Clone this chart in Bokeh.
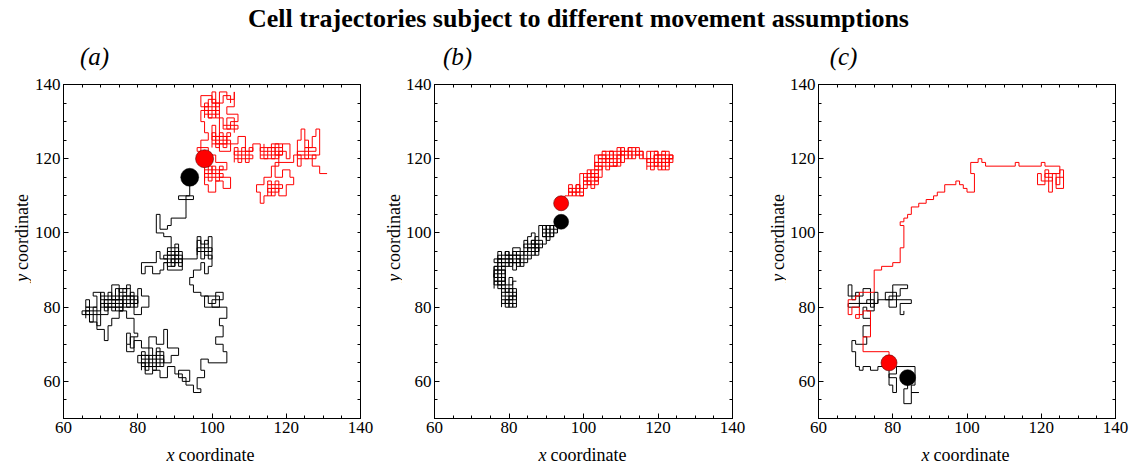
import math
from bokeh.plotting import figure
from bokeh.models import Range1d, LinearAxis, FixedTicker, Label
from bokeh.layouts import column, row
from bokeh.embed import file_html
from bokeh.resources import INLINE

TITLE = "Cell trajectories subject to different movement assumptions"
PANEL_LABELS = ["(a)", "(b)", "(c)"]
X_TICKS = [60, 80, 100, 120, 140]
Y_TICKS = [60, 80, 100, 120, 140]
MINOR_TICKS = [50, 55, 60, 65, 70, 75, 80, 85, 90, 95, 100, 105, 110, 115, 120, 125, 130, 135, 140]
X_LABEL = ("x", "coordinate")
Y_LABEL = ("y", "coordinate")

# ---- panel (a) trajectories (lattice vertices) ----
A_BLACK = [
    (94, 115), (94, 110), (91, 110), (91, 109), (95, 109), (95, 110), (93, 110), (93, 104),
    (89, 104), (89, 102), (88, 102), (88, 101), (86, 101), (86, 105), (85, 105), (85, 100),
    (87, 100), (87, 99), (89, 99), (89, 96),
    (91, 96), (91, 94), (88, 94), (88, 95), (92, 95), (92, 93), (89, 93), (89, 92), (91, 92),
    (91, 97), (90, 97), (90, 91), (88, 91), (88, 93),
    (86, 93), (86, 95), (85, 95), (85, 92), (81, 92), (81, 89), (82, 89), (82, 91), (84, 91),
    (84, 89), (86, 89), (86, 90), (87, 90), (87, 92), (88, 92), (88, 90), (92, 90),
    (92, 93), (96, 93), (96, 99), (97, 99), (97, 97), (99, 97), (99, 99), (100, 99), (100, 95),
    (98, 95), (98, 94), (100, 94), (100, 91), (99, 91), (99, 89), (98, 89), (98, 92), (97, 92),
    (97, 90), (95, 90), (95, 88), (94, 88), (94, 86), (95, 86), (95, 84),
    (97, 84), (97, 83), (99, 83), (99, 81), (101, 81), (101, 84), (103, 84), (103, 82),
    (100, 82), (100, 80), (102, 80), (102, 83), (98, 83), (98, 80), (104, 80),
    (104, 77), (102, 77), (102, 75), (103, 75), (103, 72), (101, 72), (101, 70), (103, 70),
    (103, 68), (104, 68), (104, 65), (99, 65),
    (99, 66), (97, 66), (97, 63), (98, 63), (98, 61), (96, 61), (96, 58), (97, 58), (97, 57),
    (95, 57), (95, 59), (93, 59), (93, 61), (91, 61), (91, 63), (94, 63), (94, 60), (92, 60),
    (92, 62), (90, 62),
    (90, 64), (88, 64), (88, 61), (86, 61), (86, 63), (84, 63), (84, 62), (82, 62), (82, 65),
    (80, 65), (80, 67), (83, 67), (83, 64), (85, 64), (85, 68), (87, 68), (87, 65), (89, 65),
    (89, 67), (91, 67), (91, 69), (88, 69), (88, 74), (87, 74), (87, 70), (85, 70), (85, 72),
    (83, 72), (83, 69), (81, 69), (81, 71), (79, 71), (79, 68), (77, 68), (77, 70), (78, 70),
    (78, 72), (80, 72), (80, 73), (79, 73), (79, 77),
    (77, 77), (77, 79), (75, 79), (75, 77), (73, 77), (73, 75), (72, 75), (72, 71), (71, 71),
    (71, 74), (69, 74), (69, 76), (67, 76), (67, 78), (65, 78), (65, 79), (67, 79), (67, 82),
    (66, 82), (66, 80), (69, 80), (69, 83), (68, 83), (68, 84), (70, 84), (70, 78), (72, 78),
    (72, 81), (74, 81), (74, 79), (76, 79), (76, 82), (73, 82), (73, 86), (75, 86), (75, 84),
    (77, 84), (77, 86), (78, 86), (78, 81), (80, 81), (80, 85), (81, 85), (81, 83), (83, 83),
    (83, 80), (81, 80), (81, 78), (79, 78), (79, 83), (76, 83), (76, 80), (71, 80), (71, 82),
    (75, 82), (75, 85), (78, 85),
]
A_BLACK_LOOPS = [
    [(70, 79), (70, 84), (71, 84), (71, 79), (72, 79), (72, 84), (73, 84), (73, 79), (74, 79),
     (74, 85), (75, 85), (75, 79), (76, 79), (76, 85), (77, 85), (77, 80), (78, 80), (78, 84),
     (79, 84), (79, 80), (80, 80), (80, 83), (70, 83), (70, 82), (80, 82), (80, 81), (70, 81),
     (70, 80), (79, 80)],
    [(66, 77), (66, 80), (67, 80), (67, 76), (68, 76), (68, 80), (69, 80), (69, 75), (70, 75),
     (70, 78), (66, 78), (66, 79), (70, 79)],
    [(88, 91), (88, 96), (89, 96), (89, 91), (90, 91), (90, 95), (91, 95), (91, 91), (92, 91),
     (92, 94), (87, 94), (87, 93), (92, 93), (92, 92), (87, 92)],
    [(81, 63), (81, 68), (82, 68), (82, 63), (83, 63), (83, 69), (84, 69), (84, 63), (85, 63),
     (85, 69), (86, 69), (86, 64), (87, 64), (87, 67), (81, 67), (81, 66), (87, 66), (87, 65),
     (81, 65), (81, 64), (86, 64)],
    [(96, 94), (96, 98), (97, 98), (97, 93), (98, 93), (98, 98), (99, 98), (99, 93), (100, 93),
     (100, 96), (96, 96), (96, 95), (100, 95)],
    [(77, 70), (77, 73), (78, 73), (78, 69), (79, 69), (79, 72)],
]
A_RED = [
    (98, 120), (98, 118), (100, 118), (100, 116), (98, 116), (98, 113), (99, 113), (99, 111),
    (101, 111), (101, 114), (103, 114), (103, 112), (105, 112), (105, 115), (102, 115),
    (102, 117), (104, 117), (104, 119), (101, 119), (101, 121), (99, 121), (99, 123), (96, 123),
    (96, 122), (97, 122), (97, 125), (99, 125), (99, 127), (98, 127), (98, 130), (97, 130),
    (97, 133), (99, 133), (99, 131), (101, 131), (101, 136), (99, 136), (99, 134), (97, 134),
    (97, 137), (100, 137), (100, 135), (102, 135), (102, 138), (104, 138), (104, 136),
    (106, 136), (106, 138), (106, 134), (104, 134), (104, 132), (107, 132), (107, 130),
    (105, 130), (105, 128), (103, 128), (103, 131), (102, 131), (102, 126), (104, 126),
    (104, 124), (101, 124), (101, 129), (100, 129), (100, 126), (102, 126), (102, 122),
    (105, 122), (105, 124), (107, 124), (107, 126), (109, 126), (109, 122), (111, 122),
    (111, 124), (113, 124), (113, 120), (115, 120), (115, 123), (117, 123), (117, 121),
    (119, 121), (119, 124), (121, 124), (121, 120), (120, 120), (120, 122), (118, 122),
    (118, 118), (116, 118), (116, 115), (114, 115), (114, 113), (112, 113), (112, 111),
    (113, 111), (113, 108), (114, 108), (114, 110), (116, 110), (116, 112), (118, 112),
    (118, 110), (120, 110), (120, 113), (122, 113), (122, 115), (121, 115), (121, 117),
    (119, 117), (119, 115), (117, 115), (117, 119), (122, 119), (122, 121), (124, 121),
    (124, 118), (123, 118), (123, 125), (124, 125), (124, 128), (125, 128), (125, 123),
    (127, 123), (127, 126), (128, 126), (128, 128), (129, 128), (129, 121), (127, 121),
    (127, 118), (129, 118), (129, 116), (131, 116),
]
A_RED_LOOPS = [
    [(98, 131), (98, 135), (99, 135), (99, 131), (100, 131), (100, 135), (101, 135), (101, 131),
     (102, 131), (102, 135), (102, 134), (98, 134), (98, 133), (102, 133), (102, 132), (98, 132)],
    [(100, 123), (100, 127), (101, 127), (101, 123), (102, 123), (102, 127), (103, 127),
     (103, 123), (104, 123), (104, 127), (105, 127), (105, 126), (100, 126), (100, 125),
     (105, 125), (105, 124), (100, 124)],
    [(98, 114), (98, 118), (99, 118), (99, 114), (100, 114), (100, 118), (101, 118), (101, 114),
     (102, 114), (102, 118), (103, 118), (103, 117), (98, 117), (98, 116), (103, 116),
     (103, 115), (98, 115)],
    [(106, 119), (106, 123), (107, 123), (107, 119), (108, 119), (108, 123), (109, 123),
     (109, 119), (110, 119), (110, 123), (111, 123), (111, 122), (106, 122), (106, 121),
     (111, 121), (111, 120), (106, 120)],
    [(113, 121), (119, 121), (119, 122), (113, 122), (113, 123), (119, 123), (119, 124),
     (116, 124), (116, 120), (117, 120), (117, 124), (118, 124), (118, 120), (114, 120),
     (114, 124)],
    [(115, 110), (115, 114), (116, 114), (116, 110), (117, 110), (117, 114), (118, 114),
     (118, 111), (115, 111), (115, 112), (119, 112), (119, 113), (115, 113)],
    [(123, 120), (128, 120), (128, 121), (123, 121), (123, 122), (128, 122), (128, 123),
     (125, 123), (125, 120), (126, 120), (126, 125), (125, 125)],
    [(100, 135), (100, 138), (101, 138), (101, 135), (103, 135), (103, 137), (105, 137),
     (105, 135)],
    [(103, 129), (107, 129), (107, 128), (104, 128), (104, 131), (106, 131), (106, 127)],
]

# ---- panel (b) ----
B_BLACK = [
    (94, 103), (94, 102), (89, 102), (89, 101), (93, 101), (93, 100), (89, 100), (89, 99),
    (92, 99), (92, 102), (91, 102), (91, 98), (90, 98), (90, 102), (90, 97), (86, 97),
    (86, 98), (89, 98), (89, 96), (85, 96), (85, 95), (88, 95), (88, 99), (87, 99), (87, 94),
    (86, 94), (86, 93), (82, 93), (82, 95), (84, 95), (84, 91), (83, 91), (83, 96), (81, 96),
    (81, 92), (85, 92), (85, 94), (79, 94), (79, 95), (80, 95), (80, 91), (78, 91), (78, 93),
    (76, 93), (76, 92), (82, 92), (82, 90), (81, 90), (81, 93), (77, 93), (77, 86), (78, 86),
    (78, 91), (76, 91), (76, 87), (79, 87), (79, 88), (76, 88), (76, 90), (79, 90), (79, 84),
    (80, 84), (80, 88), (81, 88), (81, 82), (79, 82), (79, 81), (81, 81), (81, 80), (80, 80),
    (80, 83), (82, 83), (82, 85), (78, 85), (78, 86), (81, 86), (81, 87), (82, 87),
]
B_BLACK_LOOPS = [
    [(88, 99), (88, 102), (89, 102), (89, 99), (90, 99), (90, 102), (91, 102), (91, 99),
     (92, 99), (92, 102), (93, 102), (93, 100)],
    [(84, 94), (84, 98), (85, 98), (85, 94), (86, 94), (86, 98), (87, 98), (87, 94), (88, 94),
     (88, 97), (84, 97), (84, 96), (88, 96), (88, 95), (84, 95)],
    [(77, 91), (77, 95), (78, 95), (78, 91), (79, 91), (79, 95), (80, 95), (80, 91), (81, 91),
     (81, 95), (82, 95), (82, 91), (83, 91), (83, 94), (77, 94), (77, 93), (83, 93), (83, 92),
     (77, 92)],
    [(76, 85), (76, 91), (77, 91), (77, 85), (78, 85), (78, 91), (79, 91), (79, 86), (76, 86),
     (76, 87), (79, 87), (79, 88), (76, 88), (76, 89), (79, 89), (79, 90), (76, 90)],
    [(78, 80), (78, 85), (79, 85), (79, 80), (80, 80), (80, 85), (81, 85), (81, 80), (82, 80),
     (82, 84), (78, 84), (78, 83), (82, 83), (82, 82), (78, 82), (78, 81), (82, 81)],
    [(85, 95), (85, 99), (86, 99), (86, 100), (87, 100), (87, 96)],
]
B_RED = [
    (94, 108), (95, 108), (95, 110), (97, 110), (97, 112), (96, 112), (96, 111), (99, 111),
    (99, 113), (98, 113), (98, 110), (100, 110), (100, 114), (102, 114), (102, 113),
    (101, 113), (101, 116), (103, 116), (103, 114), (104, 114), (104, 117), (102, 117),
    (102, 115), (105, 115), (105, 118), (103, 118), (103, 119), (106, 119), (106, 121),
    (104, 121), (104, 120), (108, 120), (108, 122), (107, 122), (107, 118), (109, 118),
    (109, 121), (111, 121), (111, 119), (110, 119), (110, 122), (113, 122), (113, 120),
    (112, 120), (112, 123), (114, 123), (114, 121), (115, 121), (115, 122), (116, 122),
    (116, 120), (118, 120), (118, 122), (120, 122), (120, 118), (119, 118), (119, 121),
    (122, 121), (122, 117), (121, 117), (121, 120), (124, 120), (124, 121), (119, 121),
    (119, 119), (123, 119), (123, 122), (121, 122),
]
B_RED_LOOPS = [
    [(96, 110), (96, 113), (97, 113), (97, 110), (98, 110), (98, 113), (99, 113), (99, 110),
     (100, 110), (100, 112), (96, 112), (96, 111), (100, 111)],
    [(99, 112), (99, 116), (100, 116), (100, 112), (101, 112), (101, 117), (102, 117),
     (102, 112), (103, 112), (103, 117), (104, 117), (104, 113), (100, 113), (100, 114),
     (104, 114), (104, 115), (100, 115), (100, 116), (104, 116)],
    [(103, 117), (103, 121), (104, 121), (104, 117), (105, 117), (105, 122), (106, 122),
     (106, 117), (107, 117), (107, 122), (108, 122), (108, 118), (109, 118), (109, 123),
     (110, 123), (110, 118), (103, 118), (103, 119), (110, 119), (110, 120), (104, 120),
     (104, 121), (110, 121), (110, 122), (105, 122)],
    [(110, 120), (110, 123), (111, 123), (111, 120), (112, 120), (112, 123), (113, 123),
     (113, 120), (114, 120), (114, 123), (115, 123), (115, 120), (116, 120), (116, 122),
     (110, 122), (110, 121), (116, 121)],
    [(117, 117), (117, 122), (118, 122), (118, 117), (119, 117), (119, 122), (120, 122),
     (120, 117), (121, 117), (121, 122), (122, 122), (122, 117), (123, 117), (123, 121),
     (124, 121), (124, 119), (117, 119), (117, 120), (124, 120), (123, 120), (123, 118),
     (117, 118)],
]

# ---- panel (c) ----
C_BLACK = [
    (84, 61), (84, 58), (83, 58), (83, 54), (85, 54), (85, 57), (87, 57), (85, 57), (85, 59),
    (86, 59), (86, 64), (81, 64), (81, 62), (79, 62), (79, 59), (80, 59), (80, 57), (81, 57),
    (81, 61), (79, 61), (79, 64), (76, 64), (76, 63), (74, 63), (74, 64), (72, 64), (72, 63),
    (71, 63), (71, 64), (70, 64), (70, 68), (69, 68), (69, 71), (70, 71), (70, 70), (73, 70),
    (73, 72), (72, 72), (72, 75), (74, 75), (74, 77), (72, 77), (72, 80), (73, 80), (73, 79),
    (75, 79), (75, 82), (73, 82), (73, 81), (71, 81), (71, 84), (70, 84), (70, 82), (69, 82),
    (69, 86), (68, 86), (68, 83), (72, 83), (72, 85), (74, 85), (74, 80), (75, 80), (75, 84),
    (76, 84), (76, 81), (71, 81), (71, 80), (68, 80), (68, 81), (76, 81), (76, 82), (80, 82),
    (80, 86), (84, 86), (84, 85), (82, 85), (82, 83), (79, 83), (79, 80), (81, 80), (81, 84),
    (78, 84), (78, 82), (85, 82), (85, 81), (82, 81), (82, 78), (83, 78), (83, 79),
]
C_RED = [
    (79, 65), (79, 68), (72, 68), (72, 72), (74, 72), (74, 79), (72, 79), (72, 78), (70, 78),
    (70, 77), (71, 77), (71, 80), (69, 80), (69, 78), (68, 78), (68, 82), (70, 82), (70, 83),
    (71, 83), (71, 84), (75, 84), (75, 90), (77, 90), (77, 91), (80, 91), (80, 92), (82, 92),
    (82, 96), (83, 96), (83, 102), (82, 102), (82, 103), (83, 103), (83, 104), (84, 104),
    (84, 105), (85, 105), (85, 107), (87, 107), (87, 108), (89, 108), (89, 109), (91, 109),
    (91, 110), (92, 110), (92, 111), (94, 111), (94, 113), (97, 113), (97, 114), (98, 114),
    (98, 113), (99, 113), (99, 112), (100, 112), (100, 111), (102, 111), (102, 116),
    (101, 116), (101, 119), (103, 119), (103, 120), (104, 120), (104, 119), (105, 119),
    (105, 118), (113, 118), (113, 119), (114, 119), (114, 118), (120, 118), (120, 119),
    (121, 119), (121, 118), (125, 118), (125, 116), (121, 116), (121, 115), (123, 115),
    (123, 114), (120, 114), (120, 116), (119, 116), (119, 113), (121, 113), (121, 117),
    (122, 117), (122, 111), (123, 111), (123, 116), (124, 116), (124, 112), (126, 112),
    (126, 115), (124, 115), (124, 113), (125, 113), (125, 117), (126, 117), (126, 114),
]

# cell positions (black, red) and marker diameters per panel
DOT_BLACK = [(94, 115), (94, 103), (84, 61)]
DOT_RED = [(98, 120), (94, 108), (79, 65)]
DOT_SIZE_BLACK = [18, 15, 16]
DOT_SIZE_RED = [18, 15, 16]

SERIF = "Liberation Serif"
RED = "#ff0000"

TOP_H = 74    # title strip
ROW_H = 369   # height of the panel row
BOT_H = 23    # x-label strip


def strip(width, height, xr, yr):
    s = figure(width=width, height=height, x_range=Range1d(0, xr), y_range=Range1d(0, yr),
               output_backend="svg", toolbar_location=None, min_border=0,
               x_axis_location=None, y_axis_location=None)
    s.outline_line_color = None
    s.grid.visible = False
    return s


def make_panel(width, left, right, black, black_loops, red, red_loops, k):
    p = figure(width=width, height=ROW_H, x_range=Range1d(60, 140), y_range=Range1d(50, 140),
               output_backend="svg", toolbar_location=None,
               min_border_left=left, min_border_right=right,
               min_border_top=10, min_border_bottom=25,
               x_axis_location=None, y_axis_location=None)
    p.grid.visible = False
    p.outline_line_color = "black"
    p.outline_line_width = 1
    for side in ["below", "left", "above", "right"]:
        ticks = X_TICKS if side in ("below", "above") else Y_TICKS
        if side in ("below", "left"):
            ax = LinearAxis(ticker=FixedTicker(ticks=ticks, minor_ticks=MINOR_TICKS))
            ax.major_label_text_font = SERIF
            ax.major_label_text_font_size = "17px"
            ax.major_label_text_color = "black"
            ax.major_label_standoff = 3
        else:
            ax = LinearAxis(ticker=FixedTicker(ticks=[], minor_ticks=MINOR_TICKS))
        ax.axis_line_color = "black"
        ax.major_tick_line_color = "black"
        ax.minor_tick_line_color = "black"
        ax.major_tick_in = 5
        ax.major_tick_out = 0
        ax.minor_tick_in = 3
        ax.minor_tick_out = 0
        p.add_layout(ax, side)

    bx, by = zip(*black)
    rx, ry = zip(*red)
    p.line(x=list(bx), y=list(by), line_color="black", line_width=1)
    if black_loops:
        p.multi_line(xs=[[v[0] for v in seg] for seg in black_loops],
                     ys=[[v[1] for v in seg] for seg in black_loops],
                     line_color="black", line_width=1)
    p.line(x=list(rx), y=list(ry), line_color=RED, line_width=1)
    if red_loops:
        p.multi_line(xs=[[v[0] for v in seg] for seg in red_loops],
                     ys=[[v[1] for v in seg] for seg in red_loops],
                     line_color=RED, line_width=1)
    p.scatter(x=[DOT_BLACK[k][0]], y=[DOT_BLACK[k][1]], size=DOT_SIZE_BLACK[k],
              fill_color="black", line_color="black", line_width=0.5)
    p.scatter(x=[DOT_RED[k][0]], y=[DOT_RED[k][1]], size=DOT_SIZE_RED[k],
              fill_color=RED, line_color="#600000", line_width=0.6)
    return p


def ylabel_strip(width, cx):
    s = strip(width, ROW_H, width, ROW_H)
    # strip y = 443 - page y
    s.add_layout(Label(x=cx, y=160, text=Y_LABEL[0], text_font=SERIF, text_font_style="italic",
                       text_font_size="18px", text_align="right", text_baseline="middle",
                       angle=math.pi / 2, text_color="black"))
    s.add_layout(Label(x=cx, y=164, text=Y_LABEL[1], text_font=SERIF,
                       text_font_size="18px", text_align="left", text_baseline="middle",
                       angle=math.pi / 2, text_color="black"))
    return s


ya = ylabel_strip(31, 21)
fa = make_panel(347, 31, 18, A_BLACK, A_BLACK_LOOPS, A_RED, A_RED_LOOPS, 0)
yb = ylabel_strip(24, 15)
fb = make_panel(358, 32, 28, B_BLACK, B_BLACK_LOOPS, B_RED, B_RED_LOOPS, 1)
yc = ylabel_strip(26, 17)
fc = make_panel(353, 31, 24, C_BLACK, [], C_RED, [], 2)

t = strip(1139, TOP_H, 1139, TOP_H)
t.add_layout(Label(x=578, y=TOP_H - 18, text=TITLE, text_font=SERIF, text_font_style="bold",
                   text_font_size="26px", text_align="center", text_baseline="middle",
                   text_color="black"))
for lab, cx in zip(PANEL_LABELS, [94, 457, 843]):
    t.add_layout(Label(x=cx, y=TOP_H - 56, text=lab, text_font=SERIF, text_font_style="italic",
                       text_font_size="25px", text_align="center", text_baseline="middle",
                       text_color="black"))

b = strip(1139, BOT_H, 1139, BOT_H)
for left in [62, 434, 817]:
    b.add_layout(Label(x=left + 112, y=12, text=X_LABEL[0], text_font=SERIF,
                       text_font_style="italic", text_font_size="18px", text_align="right",
                       text_baseline="middle", text_color="black"))
    b.add_layout(Label(x=left + 116, y=12, text=X_LABEL[1], text_font=SERIF,
                       text_font_size="18px", text_align="left", text_baseline="middle",
                       text_color="black"))

layout = column(t, row(ya, fa, yb, fb, yc, fc), b)
open("out.html", "w").write(file_html(layout, INLINE))
